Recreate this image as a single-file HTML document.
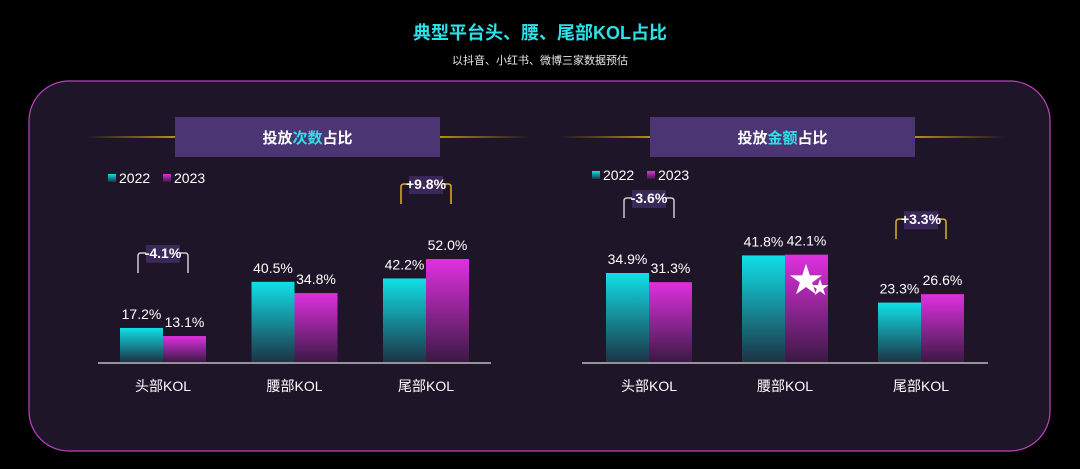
<!DOCTYPE html>
<html><head><meta charset="utf-8">
<style>
body{margin:0;width:1080px;height:464px;background:#000;overflow:hidden;font-family:"Liberation Sans","Noto Sans CJK SC",sans-serif;}
</style></head><body>
<svg width="1080" height="464" viewBox="0 0 1080 464" xmlns="http://www.w3.org/2000/svg">
<defs>
<linearGradient id="gc" x1="0" y1="0" x2="0" y2="1"><stop offset="0" stop-color="#10e0e8"/><stop offset="1" stop-color="#10e0e8" stop-opacity="0.15"/></linearGradient>
<linearGradient id="gm" x1="0" y1="0" x2="0" y2="1"><stop offset="0" stop-color="#e030e0"/><stop offset="1" stop-color="#e030e0" stop-opacity="0.15"/></linearGradient>
<linearGradient id="gl" x1="0" y1="0" x2="1" y2="0"><stop offset="0" stop-color="#b09010" stop-opacity="0"/><stop offset="1" stop-color="#b09010"/></linearGradient>
<linearGradient id="gr" x1="0" y1="0" x2="1" y2="0"><stop offset="0" stop-color="#b09010"/><stop offset="1" stop-color="#b09010" stop-opacity="0"/></linearGradient>
</defs>
<text x="540" y="39" text-anchor="middle" fill="#2ee0e8" font-size="18" font-weight="bold">典型平台头、腰、尾部KOL占比</text>
<text x="540" y="64" text-anchor="middle" fill="#e8e8e8" font-size="11">以抖音、小红书、微博三家数据预估</text>
<rect x="29" y="81" width="1021" height="370" rx="40" fill="#1e1529" stroke="#c040c0" stroke-width="1.2"/>
<g id="charts"></g>
</svg>
<script>
const categories=["头部KOL","腰部KOL","尾部KOL"];
const countY2022=[17.2,40.5,42.2];
const countY2023=[13.1,34.8,52.0];
const amountY2022=[34.9,41.8,23.3];
const amountY2023=[31.3,42.1,26.6];
const countDiffs=["-4.1%",null,"+9.8%"];
const amountDiffs=["-3.6%",null,"+3.3%"];
const NS="http://www.w3.org/2000/svg";
const root=document.getElementById('charts');
function mk(tag,attrs,text,parent){const e=document.createElementNS(NS,tag);for(const k in attrs)e.setAttribute(k,attrs[k]);if(text!=null)e.textContent=text;(parent||root).appendChild(e);return e;}
function chart(cfg,a,b,diffs){
  const g=mk('g',{});
  
  
  const y=v=>cfg.base-v*cfg.scale;
  const cx=i=>cfg.c0+i*cfg.step;
  mk('rect',{x:cfg.tx-90,y:136,width:90,height:2,fill:'url(#gl)'},null,g);
  mk('rect',{x:cfg.tx+cfg.tw,y:136,width:90,height:2,fill:'url(#gr)'},null,g);
  const tb=mk('rect',{x:cfg.tx,y:117,width:cfg.tw,height:40,fill:'#4b3573'},null,g);
  
  
  const tt=mk('text',{x:cfg.tx+cfg.tw/2,y:143,'text-anchor':'middle','font-size':15,'font-weight':'bold',fill:'#fff'},null,g);
  
  
  mk('tspan',{},'投放',tt);mk('tspan',{fill:'#2ee0e8'},cfg.hl,tt);mk('tspan',{},'占比',tt);
  const lg=mk('g',{},null,g);
  
  
  mk('rect',{x:cfg.lx,y:cfg.ly-9,width:8,height:8,fill:'url(#gc)'},null,lg);
  mk('text',{x:cfg.lx+11,y:cfg.ly,'font-size':14,fill:'#fff'},'2022',lg);
  mk('rect',{x:cfg.lx+55,y:cfg.ly-9,width:8,height:8,fill:'url(#gm)'},null,lg);
  mk('text',{x:cfg.lx+66,y:cfg.ly,'font-size':14,fill:'#fff'},'2023',lg);
  const ax=mk('line',{x1:cfg.ax0,x2:cfg.ax1,y1:cfg.base+1,y2:cfg.base+1,stroke:'#bbb','stroke-width':1.5},null,g);
  
  
  const w=43;
  categories.forEach((c,i)=>{
    const x=cx(i);
    const r1=mk('rect',{x:x-w,y:y(a[i]),width:w,height:cfg.base-y(a[i]),fill:'url(#gc)'},null,g);
    
    
    const r2=mk('rect',{x:x,y:y(b[i]),width:w,height:cfg.base-y(b[i]),fill:'url(#gm)'},null,g);
    
    
    const l1=mk('text',{x:x-w/2,y:y(a[i])-9,'text-anchor':'middle','font-size':14,fill:'#fff'},a[i].toFixed(1)+'%',g);
    
    
    const l2=mk('text',{x:x+w/2,y:y(b[i])-9,'text-anchor':'middle','font-size':14,fill:'#fff'},b[i].toFixed(1)+'%',g);
    
    
    const cl=mk('text',{x:x,y:cfg.base+29,'text-anchor':'middle','font-size':14,fill:'#fff'},c,g);
    
    
    if(diffs[i]){
      const top=Math.min(y(a[i]),y(b[i]))-75;
      const col=diffs[i][0]=='+'?'#e0b020':'#ccc';
      mk('path',{d:`M${x-25},${top+20} L${x-25},${top+3} Q${x-25},${top} ${x-22},${top} L${x+22},${top} Q${x+25},${top} ${x+25},${top+3} L${x+25},${top+20}`,fill:'none',stroke:col,'stroke-width':1.5},null,g);
      mk('rect',{x:x-17,y:top-8,width:34,height:18,fill:'#3a2858'},null,g);
      const d=mk('text',{x:x,y:top+5,'text-anchor':'middle','font-size':14,'font-weight':'bold',fill:'#fff'},diffs[i],g);
      
      
    }
  });
  return g;
}
chart({name:'count-chart',base:362,scale:1.98,c0:163,step:131.5,tx:175,tw:265,hl:'次数',lx:108,ly:183,ax0:98,ax1:491},countY2022,countY2023,countDiffs);
chart({name:'amount-chart',base:362,scale:2.55,c0:649,step:136,tx:650,tw:265,hl:'金额',lx:592,ly:180,ax0:582,ax1:988},amountY2022,amountY2023,amountDiffs);
const st=mk('text',{x:806,y:292,'text-anchor':'middle','font-size':34,fill:'#fff'},'★');


const st2=mk('text',{x:820,y:294,'text-anchor':'middle','font-size':18,fill:'#fff'},'★');


</script>
</body></html>
